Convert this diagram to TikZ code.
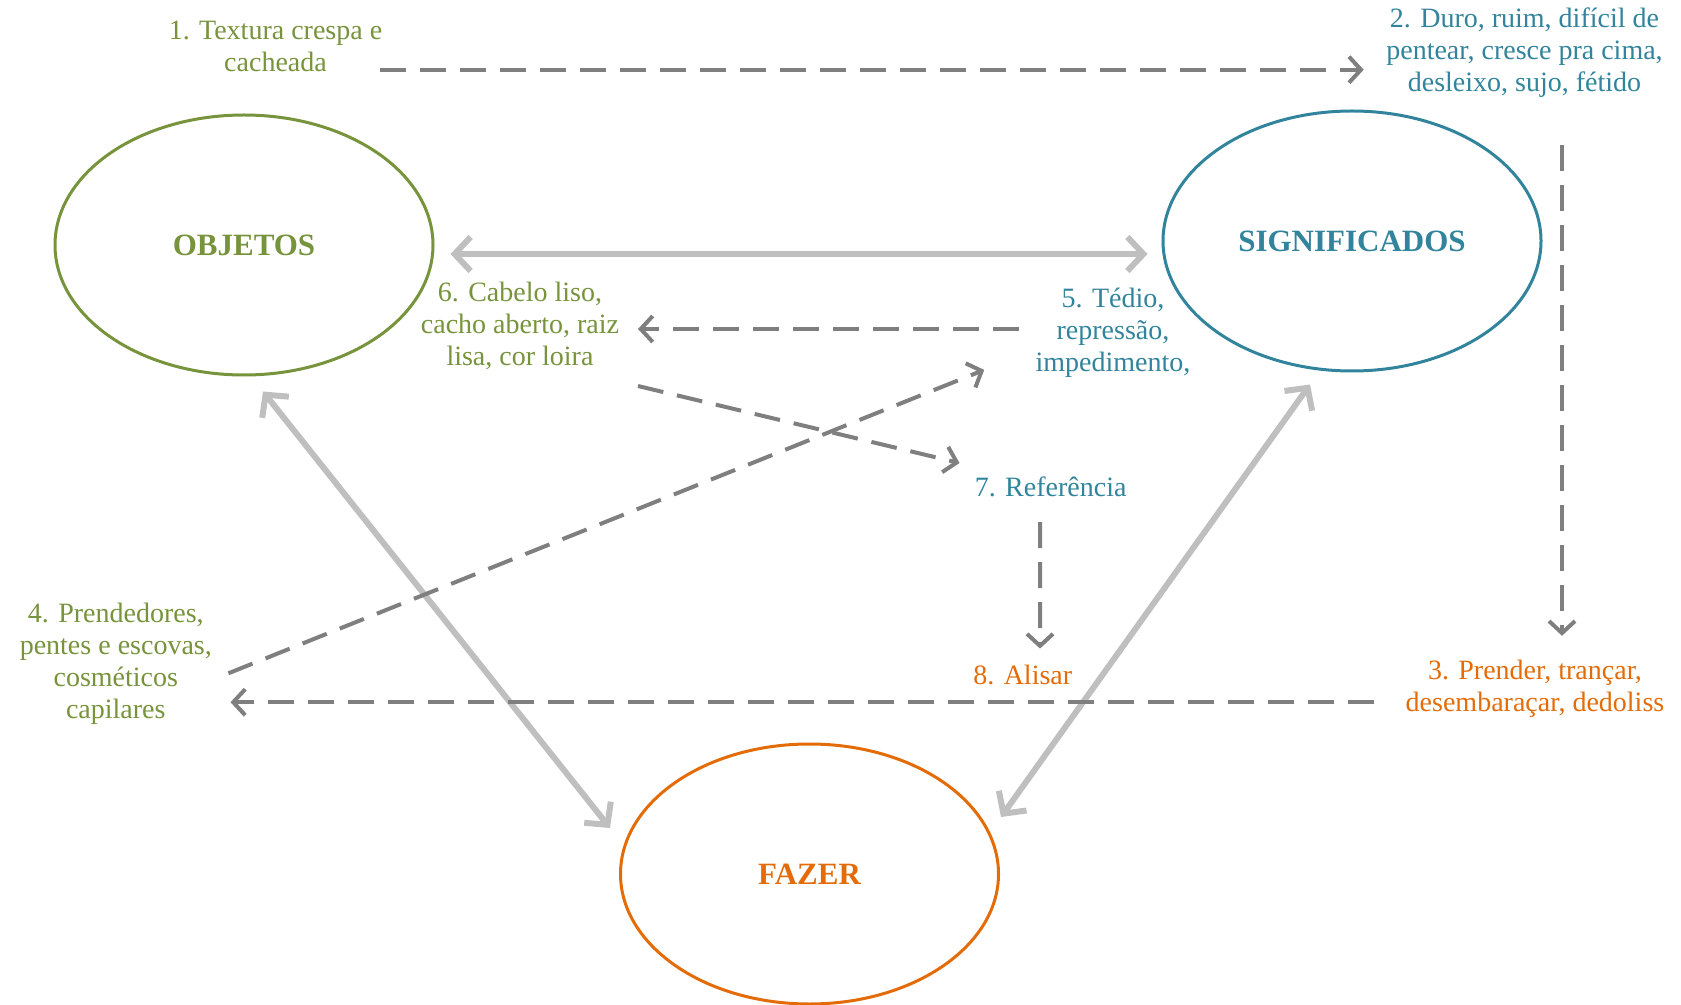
\documentclass[tikz,border=0pt]{standalone}
\usepackage{fontspec}
\setmainfont{Liberation Serif}
\usetikzlibrary{shapes.geometric,arrows.meta,calc}
\definecolor{objgreen}{HTML}{77933C}
\definecolor{sigblue}{HTML}{31849B}
\definecolor{fazorange}{HTML}{E36C09}
\definecolor{dashgray}{HTML}{7F7F7F}
\definecolor{linkgray}{HTML}{BFBFBF}
\begin{document}
\begin{tikzpicture}[x=0.5pt,y=-0.5pt,
  circ/.style={ellipse, minimum width=189pt, minimum height=130pt, line width=1.5pt,
    font=\fontsize{15.5}{18}\selectfont\bfseries},
  lab/.style={align=center, inner sep=0pt, font=\fontsize{14}{16}\selectfont},
  dasharrow/.style={draw=dashgray, line width=2pt, dash pattern=on 13pt off 7pt,
    -{Straight Barb[length=6pt,width=13pt]}},
  linkarrow/.style={draw=linkgray, line width=3pt,
    {Straight Barb[length=8pt,width=17pt]}-{Straight Barb[length=8pt,width=17pt]}}]
\useasboundingbox (0,0) rectangle (1681,1005);

% the three main categories
\node[circ, draw=objgreen, text=objgreen] (obj) at (244,245) {OBJETOS};
\node[circ, draw=sigblue, text=sigblue] (sig) at (1352,241) {SIGNIFICADOS};
\node[circ, draw=fazorange, text=fazorange] (faz) at (809.5,874) {FAZER};

% numbered steps
\node[lab, text=objgreen] (t1) at (275.5,46) {1. Textura crespa e\\cacheada};
\node[lab, text=sigblue] (t2) at (1524.5,52.4) {2. Duro, ruim, difícil de\\pentear, cresce pra cima,\\desleixo, sujo, fétido};
\node[lab, text=fazorange] (t3) at (1535,689) {3. Prender, trançar,\\desembaraçar, dedoliss};
\node[lab, text=objgreen] (t4) at (115.8,663.4) {4. Prendedores,\\pentes e escovas,\\cosméticos\\capilares};
\node[lab, text=sigblue] (t5) at (1113,333.2) {5. Tédio,\\repressão,\\impedimento,};
\node[lab, text=objgreen] (t6) at (520,325.9) {6. Cabelo liso,\\cacho aberto, raiz\\lisa, cor loira};
\node[lab, text=sigblue] (t7) at (1050.7,486.6) {7. Referência};
\node[lab, text=fazorange] (t8) at (1022.8,675.3) {8. Alisar};

% links between the categories
\draw[linkarrow] ($(obj.east)+(16,9)$) -- ($(sig.west)+(-14,13)$);
\draw[linkarrow] ($(obj.south)+(19,15)$) -- ($(faz.west)+(-9,-46)$);
\draw[linkarrow] ($(sig.south)+(-42,12)$) -- ($(faz.east)+(1,-57)$);

% sequence of steps
\draw[dasharrow] ($(t1)+(104,23.7)$) -- ($(t2)+(-160.8,17.3)$);
\draw[dasharrow] ($(t2)+(37.5,92.3)$) -- ($(t3)+(27,-53.2)$);
\draw[dasharrow] ($(t3)+(-160.6,13.2)$) -- ($(t4)+(114.7,38.8)$);
\draw[dasharrow] ($(t4)+(112.6,9.9)$) -- ($(t5)+(-128.8,36.7)$);
\draw[dasharrow] ($(t5)+(-94.5,-4.2)$) -- ($(t6)+(118,3.1)$);
\draw[dasharrow] ($(t6)+(118,60.1)$) -- ($(t7)+(-91.2,-23.6)$);
\draw[dasharrow] ($(t7)+(-10.7,35.4)$) -- ($(t8)+(17.2,-26.7)$);
\end{tikzpicture}
\end{document}
